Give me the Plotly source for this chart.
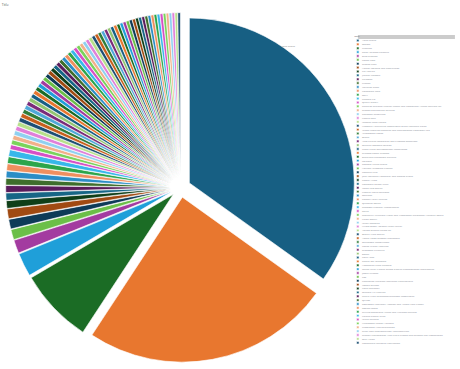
import plotly.graph_objects as go

labels = [
    "Alpha Group", "Beacon", "Crescent", "Delta Holdings Partners", "Echo Systems",
    "Falcon Labs", "Granite Peak", "Harbor Logistics and Distribution", "Iris Analytic",
    "Juniper Network", "Keystone", "Lumina", "Meridian Trade", "Northwind Corp", "Onyx",
    "Pinnacle Co.", "Quarry Supply",
    "Riverside Regional Medical Center and Community Health Services Inc.",
    "Summit Engineering Services", "Tidewater Resources", "Umbra Tech", "Vantage Point Capital",
    "Westfield Agricultural Cooperative of the Northern Plains",
    "Xenon Materials Research and Development Laboratory Ltd.", "Yellowstone Foods", "Zenith",
    "Atlas Freight Forwarding and Customs Brokerage", "Bluebird Software Studios",
    "Cedar Creek Environmental Consultants", "Dynamo Power Systems",
    "Evergreen Landscape Services", "Foxglove", "Gateway Media Group",
    "Horizon Aerospace Limited", "Ironbark Mills",
    "Jade Mountain Hospitality and Resorts Group", "Kestrel Audio", "Lakeshore Dental Clinic",
    "Maple Leaf Energy", "Nimbus Cloud Solutions", "Oakridge", "Pioneer Valley Textiles",
    "Quantum Optics", "Redwood Property Management", "Sierra",
    "Thornbury Municipal Water and Wastewater Treatment Authority Board", "Union Bakery",
    "Vertex Robotics", "Willow Brook Assisted Living Facility", "Yarrow Organic Farms Co.",
    "Zephyr Wind Energy", "Amber Coast Seafood Processors", "Birchwood Construction",
    "Cobalt Mining Ventures", "Driftwood Furniture", "Ember", "Fjord Apps",
    "Glacier Bay Outfitters", "Hawthorne Legal Partners",
    "Indigo Valley Unified School District Transportation Department", "Jasper Printing", "Koa",
    "Lighthouse Maritime Insurance Underwriters", "Mosaic Studios", "Nova Pharmacy",
    "Orchard Hill Cideries", "Prairie Wind Telecommunications Cooperative", "Quillon",
    "Rosewood Veterinary Hospital and Animal Care Center", "Saffron Foods",
    "Trillium Behavioral Health and Wellness Services", "Upland Timber Trust", "Velvet Threads",
    "Whitestone Capital Advisors", "Crossroads Auto Dealerships",
    "Silver Lake Semiconductor Manufacturing",
    "Greater Metropolitan Area Public Transit and Regional Rail Commission", "Blue Heron",
    "Copperfield Industrial Fabrication",
]

values = [
    34.75, 24.25, 7.28, 2.28,
    1.30, 1.00, 0.95, 0.95, 0.75, 0.70, 0.68, 0.66, 0.66, 0.66, 0.65, 0.65,
    0.46, 0.45, 0.44, 0.44, 0.43, 0.43, 0.42, 0.42, 0.41, 0.41,
    0.40, 0.40, 0.39, 0.39, 0.38, 0.38, 0.38, 0.37, 0.37, 0.37,
    0.36, 0.36, 0.36, 0.35, 0.35, 0.35, 0.34, 0.34, 0.34, 0.34,
    0.33, 0.33, 0.33, 0.33, 0.32, 0.32, 0.32, 0.32, 0.31, 0.31,
    0.31, 0.31, 0.30, 0.30, 0.30, 0.30, 0.30, 0.29, 0.29, 0.29,
    0.29, 0.29, 0.28, 0.28, 0.28, 0.28, 0.28, 0.27, 0.27, 0.27,
    0.27, 0.26, 0.26,
]

palette = [
    "#175f83", "#e8772f", "#1b6c25", "#1f9fd9", "#a33ba0", "#6bbf48", "#0e3b58", "#a04a12",
    "#0f3e18", "#176686", "#5a1c5c", "#3e6e2c", "#2b8dc6", "#ef8f5f", "#2ca54b", "#37b7ea",
    "#d650c6", "#7ad35b", "#f2b08a", "#8fd0f0", "#e07fd8", "#b6e08a", "#1d4f73", "#c85f1c",
    "#2f7d3a", "#4fa8d8", "#7a2b7a", "#93c572",
]

title_text = "Title"
legend_title = "label"
slice_note = "Alpha Group"

# the chart is laid out on a large canvas and shown scaled down
W, H = 2255, 1809
S = 460 / W

colors = [palette[i % len(palette)] for i in range(len(values))]

fig = go.Figure(
    go.Pie(
        labels=labels,
        values=values,
        sort=False,
        direction="clockwise",
        rotation=0,
        pull=0.06,
        textinfo="none",
        marker=dict(colors=colors, line=dict(color="white", width=3)),
        domain=dict(x=[0, 0.785], y=[0.0182, 0.9657]),
    )
)

fig.update_layout(
    width=W,
    height=H,
    margin=dict(l=0, r=0, t=0, b=0),
    paper_bgcolor="white",
    plot_bgcolor="white",
    font=dict(family="Open Sans, sans-serif", size=12, color="#444"),
    title=dict(text=title_text, x=0.004, xanchor="left", y=0.99, yanchor="top",
               font=dict(size=17, color="#555")),
    legend=dict(
        x=0.769, xanchor="left", y=0.907, yanchor="top",
        font=dict(size=12, color="#8a8f99"),
        title=dict(text=legend_title, font=dict(size=12, color="#666")),
        bgcolor="rgba(0,0,0,0)",
    ),
    shapes=[dict(type="rect", xref="paper", yref="paper", x0=0.778, x1=0.989,
                 y0=0.8944, y1=0.9049, fillcolor="#cccccc", line=dict(width=0), layer="below")],
    annotations=[dict(text=slice_note, xref="paper", yref="paper", x=0.6258, y=0.8808,
                      showarrow=False, font=dict(size=12, color="#888"))],
)

post = """
var gd = document.getElementById('{plot_id}');
document.documentElement.style.overflow = 'hidden';
document.body.style.margin = '0';
document.body.style.overflow = 'hidden';
gd.style.transformOrigin = '0 0';
gd.style.transform = 'scale(%f)';
""" % S

fig.write_html("out.html", post_script=post, config={"displayModeBar": False})
